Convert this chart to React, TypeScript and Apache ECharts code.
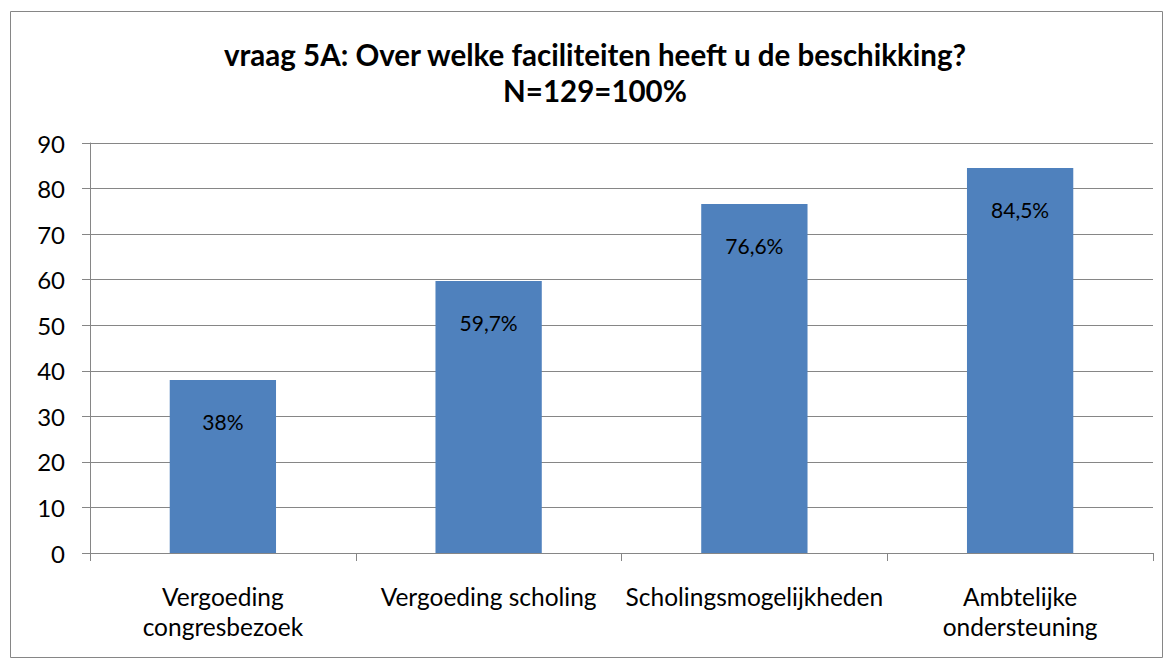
import React, { useEffect, useRef } from "react";
import * as echarts from "echarts";

const titleLines = ["vraag 5A: Over welke faciliteiten heeft u de beschikking?", "N=129=100%"];
const categories = ["Vergoeding\ncongresbezoek", "Vergoeding scholing", "Scholingsmogelijkheden", "Ambtelijke\nondersteuning"];
const values = [38, 59.7, 76.6, 84.5];
const valueLabels = ["38%", "59,7%", "76,6%", "84,5%"];
const yMin = 0;
const yMax = 90;
const yInterval = 10;

const FONT = "Lato";

export default function App() {
  const ref = useRef<HTMLDivElement>(null);
  useEffect(() => {
    if (!ref.current) return;
    const chart = echarts.init(ref.current, undefined, { renderer: "svg" });
    chart.setOption({
      animation: false,
      backgroundColor: "#ffffff",
      graphic: [
        {
          type: "rect",
          shape: { x: 10.5, y: 11.5, width: 1152, height: 646 },
          style: { fill: "none", stroke: "#868686", lineWidth: 1 },
          silent: true,
        },
        {
          type: "text",
          x: 595,
          y: 72,
          style: {
            text: titleLines.join("\n"),
            fontFamily: FONT,
            fontWeight: "bold",
            fontSize: 29.5,
            lineHeight: 36,
            fill: "#000",
            align: "center",
            verticalAlign: "middle",
          },
          silent: true,
        },
      ],
      grid: { left: 90, right: 19, top: 143, bottom: 113 },
      xAxis: {
        type: "category",
        data: categories,
        axisLine: { lineStyle: { color: "#868686", width: 1 } },
        axisTick: { show: true, length: 8, lineStyle: { color: "#868686" } },
        axisLabel: { fontFamily: FONT, fontSize: 24.5, color: "#000", margin: 28, lineHeight: 30, interval: 0 },
      },
      yAxis: {
        type: "value",
        min: yMin,
        max: yMax,
        interval: yInterval,
        axisLine: { show: true, lineStyle: { color: "#868686", width: 1 } },
        axisTick: { show: true, length: 8, lineStyle: { color: "#868686" } },
        axisLabel: { fontFamily: FONT, fontSize: 24, color: "#000", margin: 25 },
        splitLine: { lineStyle: { color: "#868686", width: 1 } },
      },
      series: [
        {
          type: "bar",
          data: values,
          barWidth: "40%",
          itemStyle: { color: "#4F81BD" },
          label: {
            show: true,
            position: "insideTop",
            distance: 31,
            fontFamily: FONT,
            fontSize: 21,
            color: "#000",
            formatter: (p: any) => valueLabels[p.dataIndex],
          },
        },
      ],
    });
    return () => chart.dispose();
  }, []);
  return (
    <div style={{ position: "fixed", left: 0, top: 0, width: 1172, height: 666, background: "#fff" }}>
      <div ref={ref} style={{ width: 1172, height: 666 }} />
    </div>
  );
}
